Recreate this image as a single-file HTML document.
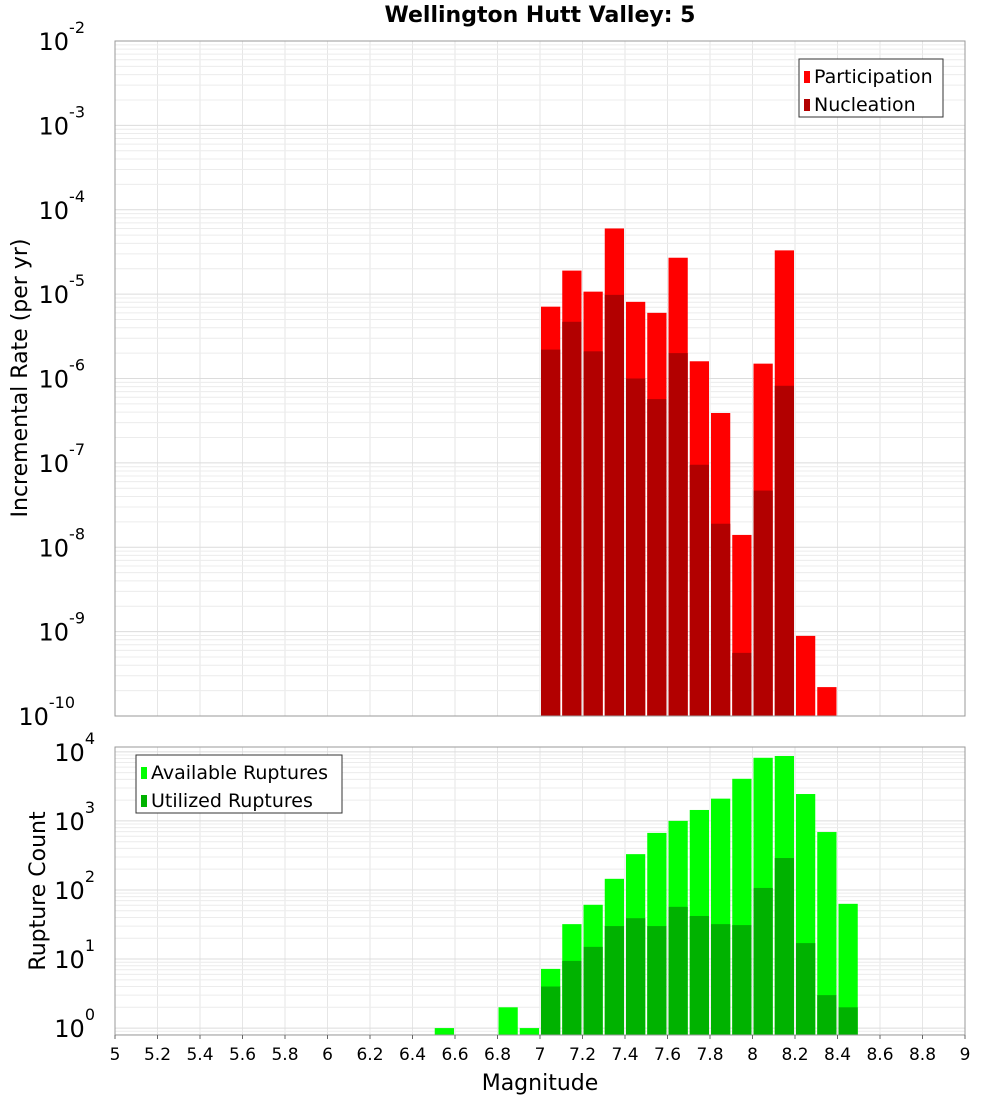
<!DOCTYPE html>
<html><head><meta charset="utf-8"><style>
body{margin:0;background:#fff;font-family:"Liberation Sans","DejaVu Sans",sans-serif}
svg text{font-family:"DejaVu Sans","Liberation Sans",sans-serif}
</style></head><body>
<svg id="c" width="1000" height="1100" xmlns="http://www.w3.org/2000/svg">
<text x="540" y="22" text-anchor="middle" font-size="22" font-weight="bold">Wellington Hutt Valley: 5</text>
</svg>
<script>
const mags=[6.55,6.85,6.95,7.05,7.15,7.25,7.35,7.45,7.55,7.65,7.75,7.85,7.95,8.05,8.15,8.25,8.35,8.45];
const participation=[0,0,0,7.1e-6,1.9e-5,1.07e-5,6e-5,8.1e-6,6e-6,2.7e-5,1.6e-6,3.9e-7,1.4e-8,1.5e-6,3.3e-5,8.9e-10,2.2e-10,0];
const nucleation=[0,0,0,2.2e-6,4.7e-6,2.1e-6,9.8e-6,1e-6,5.7e-7,2e-6,9.5e-8,1.9e-8,5.6e-10,4.7e-8,8.2e-7,0,0,0];
const available=[1,2,1,7.2,32,61,145,330,670,1000,1440,2100,4070,8200,8700,2450,690,63];
const utilized=[0,0,0,4,9.4,15,30,39,30,57,42,32,31,107,290,17,3,2];
const xTicks=[5,5.2,5.4,5.6,5.8,6,6.2,6.4,6.6,6.8,7,7.2,7.4,7.6,7.8,8,8.2,8.4,8.6,8.8,9];
const topDecades=[-10,-9,-8,-7,-6,-5,-4,-3,-2];
const botDecades=[0,1,2,3,4];
const NS="http://www.w3.org/2000/svg",svg=document.getElementById('c');
function mk(t,a,p){const e=document.createElementNS(NS,t);for(const k in a)e.setAttribute(k,a[k]);(p||svg).appendChild(e);return e;}
const X0=115,X1=965,xs=m=>X0+(m-5)*(X1-X0)/4;
const T={top:41,bot:716,lo:-10,hi:-2},B={top:747,bot:1035,lo:-0.1,hi:4.07};
const ys=(P,v)=>P.bot-(Math.log10(v)-P.lo)*(P.bot-P.top)/(P.hi-P.lo);
function panel(P,decs,name){
  const g=mk('g',{});
  for(let m=5;m<=9.001;m+=0.2)mk('line',{x1:xs(m),x2:xs(m),y1:P.top,y2:P.bot,stroke:'#e6e6e6'},g);
  for(let d=Math.floor(P.lo);d<Math.ceil(P.hi);d++)for(let k=1;k<10;k++){const v=k*Math.pow(10,d),l=Math.log10(v);if(l<P.lo||l>P.hi)continue;const y=ys(P,v);mk('line',{x1:X0,x2:X1,y1:y,y2:y,stroke:k==1?'#dcdcdc':'#ececec'},g);}
  for(const d of decs){const y=ys(P,Math.pow(10,d));const t=mk('text',{x:105,y:y+9,'text-anchor':'end','font-size':24});
    
    const s=String(d);t.textContent='10';const ts=mk('tspan',{dy:-17,'font-size':16},t);ts.textContent=s;
    t.setAttribute('x',105-s.length*10);}
}
panel(T,topDecades,'top');panel(B,botDecades,'bottom');
const bw=(X1-X0)/40;
function bars(P,vals,color,name){mags.forEach((m,i)=>{const v=vals[i];if(!v)return;const y=ys(P,v);
  const r=mk('rect',{x:xs(m)-bw/2+1,y:y,width:bw-2,height:P.bot-y,fill:color});
  });}
bars(T,participation,'#ff0000','participation-bar');bars(T,nucleation,'#b20000','nucleation-bar');
bars(B,available,'#00ff00','available-bar');bars(B,utilized,'#00b200','utilized-bar');
for(const P of [T,B]){const f=mk('rect',{x:X0,y:P.top,width:X1-X0,height:P.bot-P.top,fill:'none',stroke:'#999'});}
xTicks.forEach(m=>{mk('line',{x1:xs(m),x2:xs(m),y1:B.bot,y2:B.bot+4,stroke:'#666'});
  const t=mk('text',{x:xs(m),y:1060,'text-anchor':'middle','font-size':17});t.textContent=String(m);
  });
let t=mk('text',{x:540,y:1090,'text-anchor':'middle','font-size':22});t.textContent='Magnitude';
t=mk('text',{x:0,y:0,'text-anchor':'middle','font-size':22,transform:'translate(27,378) rotate(-90)'});t.textContent='Incremental Rate (per yr)';
t=mk('text',{x:0,y:0,'text-anchor':'middle','font-size':22,transform:'translate(45,891) rotate(-90)'});t.textContent='Rupture Count';
function legend(x,y,w,items,name){const g=mk('g',{});
  mk('rect',{x:x,y:y,width:w,height:58,fill:'#fff',stroke:'#333'},g);
  items.forEach((it,i)=>{mk('rect',{x:x+5,y:y+12+i*28,width:6,height:12,fill:it[1]},g);
    const tt=mk('text',{x:x+15,y:y+24+i*28,'font-size':19},g);tt.textContent=it[0];
    });}
legend(799,59,144,[['Participation','#ff0000'],['Nucleation','#b20000']],'top-legend');
legend(136,755,206,[['Available Ruptures','#00ff00'],['Utilized Ruptures','#00b200']],'bottom-legend');
</script>
</body></html>
